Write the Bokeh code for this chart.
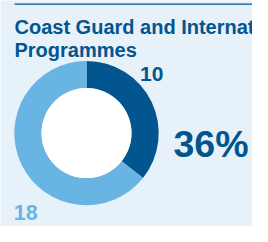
import numpy as np
from bokeh.plotting import figure
from bokeh.models import Range1d, ColumnDataSource
from bokeh.core.properties import value
from bokeh.embed import file_html
from bokeh.resources import INLINE

# ---- data ----
title_lines = ["Coast Guard and International", "Programmes"]
categories = ["Coast Guard and International Programmes", "Other"]
values = [10, 18]
percent_label = "36%"

DARK = "#02558F"
LIGHT = "#68B4E2"
BG = "#E7F1FA"

W, H = 252, 226
p = figure(width=W, height=H, output_backend="svg", toolbar_location=None,
           x_range=Range1d(0, W), y_range=Range1d(0, H),
           x_axis_location=None, y_axis_location=None, min_border=0)
p.grid.visible = False
p.outline_line_color = None
p.background_fill_color = BG
p.border_fill_color = BG

FONT = value("Liberation Sans")

# top rule
p.segment(x0=[14], y0=[222.3], x1=[W], y1=[222.3], line_color=DARK, line_width=1.2)

# title
p.text(x=[14, 14], y=[199.4, 176.5], text=title_lines, text_font=FONT,
       text_font_size="20px", text_font_style="bold", text_color=DARK,
       text_baseline="alphabetic", text_align="left")

# donut
cx, cy = 86, 93.4
r_out, r_in = 72.2, 45
vals = np.array(values, dtype=float)
frac = vals / vals.sum()
start = [np.pi / 2 - 2 * np.pi * frac[0], np.pi / 2]
end = [np.pi / 2, np.pi / 2 + 2 * np.pi * frac[1]]
src = ColumnDataSource(dict(start=start, end=end, color=[DARK, LIGHT], cat=categories))
p.annular_wedge(x=cx, y=cy, inner_radius=r_in, outer_radius=r_out,
                start_angle="start", end_angle="end", color="color",
                line_color=None, source=src)
p.circle(x=[cx], y=[cy], radius=r_in, fill_color="white", line_color=None)

# value labels
p.text(x=[151.3], y=[152.2], text=[str(values[0])], text_font=FONT,
       text_font_size="21px", text_font_style="bold", text_color=DARK,
       text_baseline="alphabetic", text_align="center")
p.text(x=[13.2], y=[14], text=[str(values[1])], text_font=FONT,
       text_font_size="21.5px", text_font_style="bold", text_color=LIGHT,
       text_baseline="alphabetic", text_align="left")
p.text(x=[173], y=[82.2], text=[percent_label], text_font=FONT,
       text_font_size="37.5px", text_font_style="bold", text_color=DARK,
       text_baseline="alphabetic", text_align="left")

open("out.html", "w").write(file_html(p, INLINE))
